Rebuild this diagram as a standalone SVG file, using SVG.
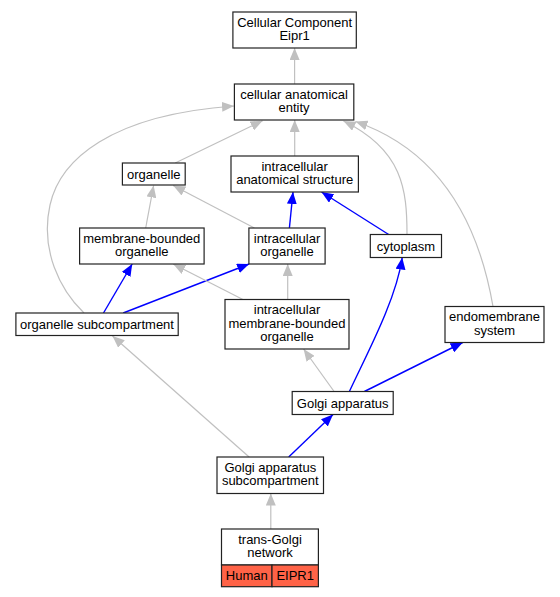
<svg xmlns="http://www.w3.org/2000/svg" width="560" height="597" viewBox="0 0 560 597">
<style>
.n rect{fill:#fff;stroke:#222;stroke-width:1.2}
.n text{font-family:"Liberation Sans",Arial,sans-serif;font-size:13px;text-anchor:middle;fill:#000}
.n rect.s{fill:#ff6347}
.g{fill:none;stroke:#c0c0c0;stroke-width:1.2;marker-end:url(#ag)}
.b{fill:none;stroke:#0000ff;stroke-width:1.4;marker-end:url(#ab)}
</style>
<defs>
<marker id="ag" viewBox="0 0 12 10" refX="12" refY="5" markerWidth="12" markerHeight="10" markerUnits="userSpaceOnUse" orient="auto"><path d="M0,0 L12,5 L0,10 z" fill="#c0c0c0"/></marker>
<marker id="ab" viewBox="0 0 12 10" refX="12" refY="5" markerWidth="12" markerHeight="10" markerUnits="userSpaceOnUse" orient="auto"><path d="M0,0 L12,5 L0,10 z" fill="#0000ff"/></marker>
</defs>
<rect width="560" height="597" fill="#fff"/>
<g id="edges">
<path class="g" d="M294.6,84 L294.6,48"/>
<path class="g" d="M175.2,163 L262.6,120.7"/>
<path class="g" d="M294.7,156 L294.7,120"/>
<path class="g" d="M407,234.5 C407,190 403,150 343.5,121"/>
<path class="g" d="M493,306.5 C478,220 438,150 355.5,121.5"/>
<path class="g" d="M84,313 C60,290 40,250 50,205 C60,160 110,115 234,106"/>
<path class="g" d="M145.7,228 L153.6,185.5"/>
<path class="g" d="M254.4,228 L173.2,185.5"/>
<path class="b" d="M289.4,228 L293,192"/>
<path class="b" d="M388.7,234.5 L321.5,192"/>
<path class="b" d="M103.5,313 L132.2,264"/>
<path class="b" d="M123.2,313 L249.1,264"/>
<path class="g" d="M242.9,299.5 L173.2,264"/>
<path class="g" d="M287.7,299.5 L287.7,264"/>
<path class="g" d="M334.1,391.5 L303.6,349"/>
<path class="b" d="M349.4,391.5 C366.3,355 396.2,300 402.2,257.5"/>
<path class="b" d="M364.4,391.5 L462.7,342.5"/>
<path class="g" d="M249.1,457 L112.5,336"/>
<path class="b" d="M288.7,457 L333,414.5"/>
<path class="g" d="M270.8,529 L270.8,493.5"/>
</g>
<g id="n1" class="n"><rect x="232.9" y="12" width="123.4" height="36"/><text x="294.6" y="26.5">Cellular Component</text><text x="294.6" y="40">Eipr1</text></g>
<g id="n2" class="n"><rect x="234.4" y="84" width="119.4" height="36"/><text x="294.1" y="98.5">cellular anatomical</text><text x="294.1" y="112">entity</text></g>
<g id="n3" class="n"><rect x="122.4" y="163" width="62.8" height="22"/><text x="153.8" y="178.5">organelle</text></g>
<g id="n4" class="n"><rect x="231" y="156" width="127.4" height="36"/><text x="294.7" y="170.5">intracellular</text><text x="294.7" y="184">anatomical structure</text></g>
<g id="n5" class="n"><rect x="79.6" y="228" width="124.5" height="36"/><text x="141.8" y="242.5">membrane-bounded</text><text x="141.8" y="256">organelle</text></g>
<g id="n6" class="n"><rect x="248.9" y="228" width="76.2" height="36"/><text x="287" y="242.5">intracellular</text><text x="287" y="256">organelle</text></g>
<g id="n7" class="n"><rect x="370.3" y="234.5" width="71.2" height="23"/><text x="405.9" y="250.5">cytoplasm</text></g>
<g id="n8" class="n"><rect x="15.9" y="313" width="162.3" height="22.5"/><text x="97" y="328.7">organelle subcompartment</text></g>
<g id="n9" class="n"><rect x="225" y="299.5" width="124" height="49.5"/><text x="287" y="314">intracellular</text><text x="287" y="327.5">membrane-bounded</text><text x="287" y="341">organelle</text></g>
<g id="n10" class="n"><rect x="445" y="306.5" width="99" height="36"/><text x="494.5" y="321">endomembrane</text><text x="494.5" y="334.5">system</text></g>
<g id="n11" class="n"><rect x="292.2" y="391.5" width="101" height="23"/><text x="342.7" y="407.5">Golgi apparatus</text></g>
<g id="n12" class="n"><rect x="217" y="457" width="106.5" height="36.5"/><text x="270.3" y="471.7">Golgi apparatus</text><text x="270.3" y="485.2">subcompartment</text></g>
<g id="n13" class="n"><rect x="221.5" y="529" width="96.9" height="36"/><text x="270" y="543.5">trans-Golgi</text><text x="270" y="557">network</text><rect class="s" x="221.5" y="565" width="50.5" height="21.7"/><rect class="s" x="272" y="565" width="46.4" height="21.7"/><text x="246.8" y="580">Human</text><text x="295.2" y="580">EIPR1</text></g>
</svg>
